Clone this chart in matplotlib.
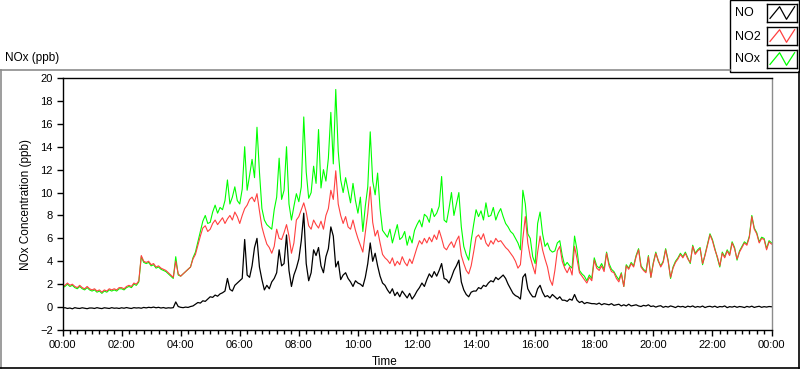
import numpy as np
import matplotlib.pyplot as plt
from matplotlib.lines import Line2D
from matplotlib.patches import Rectangle
from matplotlib.ticker import FuncFormatter

plt.rcParams['font.family'] = ['Liberation Sans', 'DejaVu Sans']

# readings every 5 minutes, one row per hour (00:00 ... 23:55) plus 24:00
no_ppb = [
    -0.10, -0.05, -0.12, -0.08, -0.15, -0.05, -0.10, -0.12, -0.06, -0.10, -0.14, -0.08,
    -0.08, -0.12, -0.05, -0.10, -0.13, -0.06, -0.09, -0.12, -0.05, -0.10, -0.08, -0.12,
    -0.06, -0.10, -0.04, -0.09, -0.12, -0.05, -0.08, -0.06, -0.10, -0.03, -0.07, -0.02,
    -0.05, 0.00, -0.06, -0.02, -0.08, -0.04, -0.10, -0.06, -0.08, -0.05, 0.45, 0.05,
    -0.02, -0.05, 0.00, -0.03, 0.05, 0.10, 0.25, 0.40, 0.35, 0.55, 0.50, 0.70,
    0.90, 0.85, 1.05, 0.95, 1.15, 1.25, 1.40, 2.50, 1.55, 1.40, 1.90, 2.10,
    2.30, 2.50, 5.90, 2.80, 2.60, 3.60, 5.20, 6.00, 3.50, 2.40, 1.50, 1.90,
    1.60, 2.20, 2.50, 3.00, 5.00, 3.60, 3.80, 6.30, 3.20, 1.80, 2.80, 3.40,
    4.20, 5.80, 8.20, 3.80, 2.30, 3.00, 5.00, 4.50, 5.20, 3.60, 3.00, 4.40,
    5.10, 7.00, 6.20, 3.50, 4.00, 2.40, 2.80, 3.00, 2.50, 2.20, 1.80, 2.30,
    2.10, 2.00, 1.80, 2.60, 3.80, 5.60, 4.00, 4.70, 3.60, 2.70, 2.10, 1.90,
    1.50, 1.20, 1.60, 1.00, 1.30, 0.90, 1.40, 1.10, 0.80, 1.20, 0.70, 1.00,
    1.40, 1.70, 2.10, 1.80, 2.40, 2.90, 2.60, 3.10, 2.70, 3.20, 3.80, 2.50,
    2.40, 2.10, 2.60, 3.20, 3.60, 4.10, 2.20, 1.50, 1.10, 0.90, 1.30, 1.40,
    1.40, 1.70, 1.60, 1.90, 1.80, 2.10, 2.30, 2.20, 2.60, 2.40, 2.60, 2.80,
    2.50, 2.00, 1.60, 1.20, 1.00, 0.90, 0.70, 2.60, 2.90, 1.60, 1.20, 0.90,
    0.90, 1.60, 1.90, 1.30, 0.90, 1.00, 0.80, 1.10, 0.90, 0.70, 0.90, 0.60,
    0.60, 0.50, 0.70, 0.60, 1.10, 0.60, 0.40, 0.50, 0.30, 0.40, 0.35, 0.30,
    0.30, 0.25, 0.35, 0.20, 0.30, 0.25, 0.20, 0.30, 0.15, 0.20, 0.25, 0.10,
    0.20, 0.10, 0.25, 0.10, 0.15, 0.20, 0.10, 0.05, 0.15, 0.10, 0.20, 0.05,
    0.10, 0.00, 0.08, 0.12, -0.02, 0.06, 0.00, 0.10, 0.04, -0.04, 0.08, 0.02,
    0.06, -0.03, 0.08, 0.02, 0.10, -0.02, 0.05, 0.00, 0.09, -0.04, 0.04, 0.07,
    0.00, 0.08, -0.03, 0.05, 0.02, 0.10, -0.05, 0.04, 0.00, 0.07, -0.02, 0.05,
    0.02, -0.04, 0.06, 0.00, 0.08, -0.03, 0.03, 0.07, -0.02, 0.04, 0.00, 0.05,
    0.03,
]

no2_ppb = [
    1.8, 1.9, 2.1, 1.9, 2.0, 1.8, 1.7, 1.9, 1.7, 1.6, 1.8, 1.6,
    1.5, 1.6, 1.4, 1.5, 1.3, 1.5, 1.4, 1.6, 1.5, 1.6, 1.5, 1.7,
    1.7, 1.6, 1.8, 1.9, 1.8, 2.1, 2.0, 2.3, 4.5, 4.0, 3.9, 4.0,
    3.7, 3.8, 3.5, 3.6, 3.4, 3.3, 3.2, 3.0, 2.8, 2.6, 4.0, 2.9,
    2.7, 2.9, 3.1, 3.3, 3.5, 4.2, 4.6, 5.4, 6.2, 6.9, 7.1, 6.6,
    6.8, 7.3, 7.6, 7.2, 7.5, 7.8, 7.3, 7.7, 8.0, 7.6, 8.3, 7.9,
    7.3, 8.0, 8.6, 8.9, 9.4, 9.6, 9.2, 9.9, 8.4, 7.0, 6.2, 5.5,
    5.2, 4.7, 5.3, 6.8, 6.0, 5.9, 6.5, 7.2, 6.2, 4.7, 5.6, 7.6,
    7.9, 8.5, 9.1, 8.3, 7.1, 6.8, 7.6, 7.2, 6.9, 7.5, 6.8, 8.0,
    8.6, 10.2, 9.4, 11.9, 9.0, 8.0, 7.3, 7.9, 7.0, 6.8, 7.6, 6.7,
    6.0, 5.4, 4.8, 6.5, 8.2, 10.5, 7.4, 6.2, 6.7, 5.6, 4.6, 4.3,
    4.1, 3.8, 4.3, 3.6, 4.0, 3.7, 4.4, 3.9, 3.6, 4.2, 3.8, 4.5,
    5.2, 5.8, 5.5, 6.0, 5.6, 6.1, 5.7, 6.3, 5.9, 6.7, 6.0, 5.2,
    5.0, 5.4, 5.7, 5.2, 5.8, 6.2, 4.5, 3.8, 3.2, 2.9, 3.6, 4.8,
    6.1, 6.3, 5.9, 6.4, 5.6, 5.3, 5.8, 5.5, 6.0, 5.7, 5.8, 5.5,
    5.2, 5.0, 4.7, 4.4, 4.0, 3.4, 3.7, 6.0, 7.9, 5.6, 4.4, 3.6,
    2.9, 4.8, 6.2, 5.0, 4.2, 3.5, 2.4, 1.9, 3.2, 4.9, 5.3, 4.0,
    3.4, 3.0, 3.5, 2.8, 5.3, 4.2, 3.0, 2.7, 2.4, 2.1, 2.6, 2.3,
    4.1, 3.4, 3.2, 3.6, 3.1, 4.7, 3.6, 3.1, 3.0, 2.5, 2.2, 2.9,
    1.8, 3.6, 3.3, 3.8, 3.5, 4.4, 5.0, 3.5, 3.2, 3.0, 4.4, 2.6,
    3.8, 4.7, 4.1, 3.5, 3.9, 5.0, 4.0, 2.6, 3.4, 3.9, 4.2, 4.6,
    4.3, 4.7, 4.2, 3.9, 5.3, 4.6, 4.9, 5.1, 3.8, 4.5, 5.4, 6.3,
    5.8, 5.0, 4.4, 3.6, 4.7, 4.3, 4.9, 4.5, 5.6, 5.1, 4.2, 4.8,
    5.2, 5.6, 5.4, 6.1, 7.9, 6.8, 6.4, 5.6, 6.0, 5.9, 5.0, 5.7,
    5.5,
]

nox_ppb = [
    1.7, 1.8, 2.0, 1.8, 1.9, 1.7, 1.6, 1.8, 1.6, 1.5, 1.7, 1.5,
    1.4, 1.5, 1.3, 1.4, 1.2, 1.4, 1.3, 1.5, 1.4, 1.5, 1.4, 1.6,
    1.6, 1.5, 1.7, 1.8, 1.7, 2.0, 1.9, 2.2, 4.4, 3.9, 3.8, 3.9,
    3.6, 3.7, 3.4, 3.5, 3.3, 3.2, 3.1, 2.9, 2.7, 2.5, 4.4, 2.8,
    2.7, 2.9, 3.1, 3.3, 3.5, 4.3, 4.8, 5.7, 6.6, 7.5, 8.0, 7.3,
    7.4, 8.3, 8.9, 8.2, 8.7, 8.5, 9.3, 11.1, 9.0, 9.6, 10.5, 9.3,
    9.0, 10.3, 14.0, 10.2, 11.5, 12.9, 11.3, 15.7, 11.8, 8.6, 7.6, 7.2,
    7.0, 6.8, 8.5, 9.6, 13.0, 9.4, 10.2, 14.0, 9.0, 7.6, 8.8, 9.9,
    9.2, 10.5, 16.6, 11.8, 9.5, 10.0, 12.3, 10.8, 15.5, 10.4, 12.0, 11.0,
    13.0, 17.0, 12.5, 19.0, 13.6, 11.1, 10.0, 11.3, 10.2, 9.1, 10.8, 9.3,
    8.2, 9.6, 6.6, 8.8, 10.5, 15.3, 11.0, 9.8, 11.7, 8.6, 6.7, 6.4,
    6.1, 6.8, 5.6, 6.4, 7.2, 5.9, 6.1, 6.6, 5.4, 6.2, 5.6, 6.7,
    7.2, 7.6, 7.0, 8.1, 7.9, 7.4, 8.6, 7.9, 8.2, 8.8, 11.4, 7.6,
    7.4, 8.6, 10.0, 8.0, 9.0, 10.0, 7.0, 5.3, 4.6, 4.1, 5.8, 7.2,
    8.5, 7.9, 8.4, 7.6, 9.1, 7.9, 8.0, 8.7, 7.6, 8.2, 8.6, 7.9,
    7.3, 7.0, 6.6, 6.4, 6.0, 5.6, 5.0, 10.2, 9.0, 6.4, 6.0, 4.4,
    3.8, 7.3, 8.3, 6.4, 5.3, 5.6, 5.0, 4.8, 4.9, 5.6, 5.8, 4.5,
    3.6, 3.9, 3.6, 3.4, 6.2, 5.0, 3.2, 2.9, 2.7, 2.3, 2.8, 2.5,
    4.3, 3.6, 3.4, 3.8, 3.3, 4.8, 3.8, 3.3, 3.1, 2.7, 2.4, 3.0,
    1.8, 3.7, 3.4, 3.9, 3.6, 4.5, 5.1, 3.6, 3.3, 3.1, 4.5, 2.6,
    3.9, 4.8, 4.0, 3.6, 4.0, 5.1, 4.1, 2.5, 3.5, 4.0, 4.3, 4.7,
    4.4, 4.8, 4.3, 3.8, 5.4, 4.7, 5.0, 5.2, 3.7, 4.6, 5.5, 6.4,
    5.9, 5.1, 4.3, 3.5, 4.8, 4.4, 5.0, 4.6, 5.7, 5.2, 4.1, 4.9,
    5.3, 5.7, 5.5, 6.2, 8.0, 6.9, 6.5, 5.7, 6.1, 6.0, 5.1, 5.8,
    5.6,
]

hours = np.arange(len(no_ppb)) * 5 / 60.0

W, H = 800, 369
fig = plt.figure(figsize=(W / 100, H / 100), dpi=100)
fig.patch.set_facecolor('white')

def px(x, y):
    return x / W, 1 - y / H

# outer frame of the graph
fig.add_artist(Line2D([0, 730 / W], [1 - 69.5 / H] * 2, color='#8c8c8c', lw=1.2))
fig.add_artist(Line2D([0.6 / W] * 2, [1 - 69.5 / H, 1 - 368 / H], color='#8c8c8c', lw=1.2))
fig.add_artist(Line2D([0, 798.5 / W], [1 - 367.8 / H] * 2, color='black', lw=1.2))
fig.add_artist(Line2D([798.5 / W] * 2, [1 - 72 / H, 1 - 368 / H], color='black', lw=1.2))

ax = fig.add_axes([62.5 / W, 1 - 330 / H, 709 / W, 252 / H])
ax.plot(hours, nox_ppb, color='#00ff00', lw=0.8)
ax.plot(hours, no2_ppb, color='#ff4040', lw=0.8)
ax.plot(hours, no_ppb, color='black', lw=0.9)

ax.set_xlim(0, 24)
ax.set_ylim(-2, 20)
ax.set_xticks(np.arange(0, 25, 2))
ax.set_xticks(np.arange(0, 24.01, 0.25), minor=True)
ax.set_yticks(np.arange(-2, 21, 2))
ax.xaxis.set_major_formatter(FuncFormatter(lambda v, p: '%02d:00' % (int(round(v)) % 24)))
ax.tick_params(axis='both', which='major', direction='out', length=4, width=1,
               labelsize=8, colors='black', pad=3)
ax.tick_params(axis='x', which='minor', direction='out', length=3, width=1)
for s in ['left', 'bottom', 'top']:
    ax.spines[s].set_color('black')
    ax.spines[s].set_linewidth(1)
ax.spines['right'].set_color('#8c8c8c')
ax.spines['right'].set_linewidth(1)

ax.set_xlabel('Time', fontsize=8.5, labelpad=2)
ax.xaxis.set_label_coords(0.454, -0.105)
ax.set_ylabel('NOx Concentration (ppb)', fontsize=8.5, labelpad=6)

fig.text(5 / W, 1 - 58 / H, 'NOx (ppb)', fontsize=8.5, ha='left', va='center')

# legend block in the top right corner
fig.add_artist(Rectangle(px(730, 72), 69 / W, 72 / H, transform=fig.transFigure,
                         facecolor='white', edgecolor='black', lw=1, zorder=-1))
names = ['NO', 'NO2', 'NOx']
colors = ['black', '#ff4040', '#00ff00']
for i, (name, c) in enumerate(zip(names, colors)):
    ytop = 4 + i * 23
    fig.text(735 / W, 1 - (ytop + 9.5) / H, name, fontsize=9, ha='left', va='center')
    box = fig.add_axes([767 / W, 1 - (ytop + 18) / H, 30 / W, 18 / H])
    box.set_zorder(5)
    box.plot([0.1, 0.42, 0.65, 0.92], [0.2, 0.85, 0.15, 0.85], color=c, lw=0.9)
    box.set_xlim(0, 1)
    box.set_ylim(0, 1)
    box.set_xticks([])
    box.set_yticks([])
    for s in box.spines.values():
        s.set_color('black')
        s.set_linewidth(1)

fig.savefig('out.png', dpi=100)
